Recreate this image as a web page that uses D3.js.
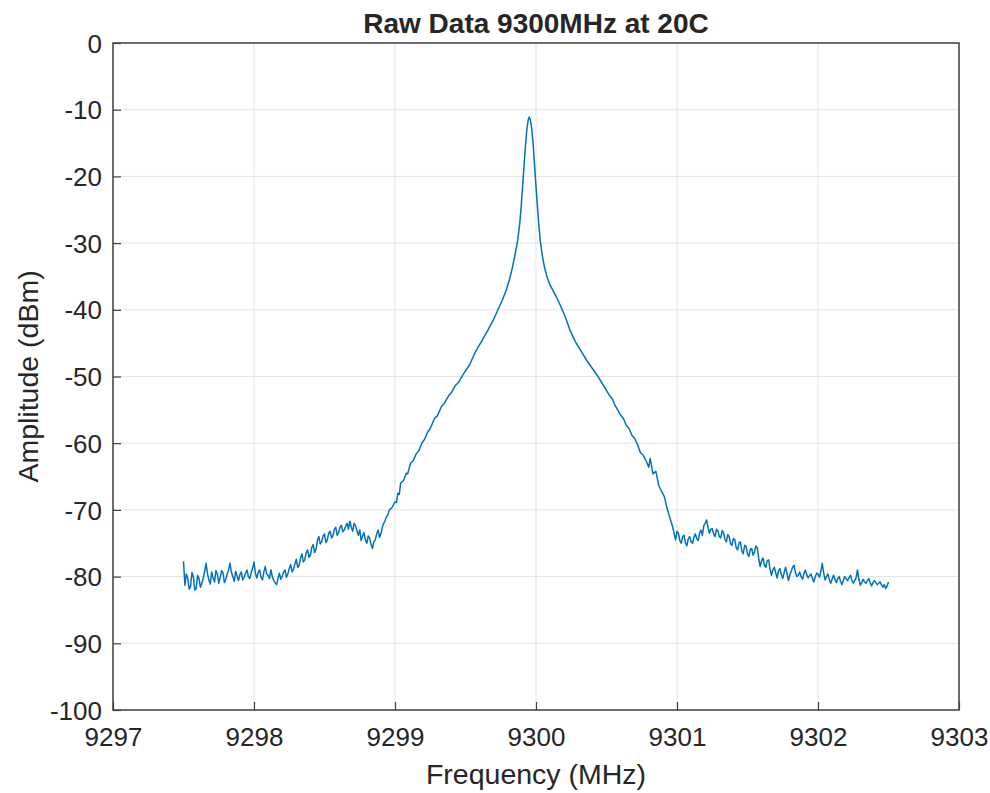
<!DOCTYPE html>
<html>
<head>
<meta charset="utf-8">
<script src="https://cdn.jsdelivr.net/npm/d3@7"></script>
<style>
  body { margin: 0; background: #fff; }
  svg text { font-family: "Liberation Sans", Arial, sans-serif; fill: #262626; }
</style>
</head>
<body>
<svg id="chart" width="990" height="793"></svg>
<script>
// [frequency MHz, amplitude dBm]
const leftTail = [
  [9297.50, -77.7], [9297.51, -81.3], [9297.52, -79.6], [9297.53, -80.2], [9297.54, -81.9], [9297.55, -81.5], [9297.56, -79.4], [9297.57, -80.0],
  [9297.58, -82.0], [9297.59, -81.8], [9297.60, -79.8], [9297.61, -80.3], [9297.62, -81.6], [9297.63, -81.0], [9297.64, -80.2], [9297.65, -79.2], [9297.66, -78.0],
  [9297.67, -79.6], [9297.68, -80.5], [9297.69, -81.1], [9297.70, -79.3], [9297.71, -80.2], [9297.72, -80.8], [9297.73, -79.1], [9297.74, -79.6], [9297.75, -81.0], [9297.76, -80.2],
  [9297.77, -79.1], [9297.78, -79.4], [9297.79, -80.9], [9297.80, -80.4], [9297.81, -79.6], [9297.82, -79.0], [9297.83, -78.0], [9297.84, -79.4], [9297.85, -80.0],
  [9297.86, -80.7], [9297.87, -79.2], [9297.88, -79.9], [9297.89, -80.6], [9297.90, -79.7], [9297.91, -79.3], [9297.92, -80.5], [9297.93, -80.1], [9297.94, -79.5], [9297.95, -79.0],
  [9297.96, -80.0], [9297.97, -80.3], [9297.98, -79.4], [9297.99, -78.8], [9298.00, -77.8], [9298.01, -79.5], [9298.02, -80.2], [9298.03, -79.4], [9298.04, -79.0],
  [9298.05, -80.1], [9298.06, -80.5], [9298.07, -79.3], [9298.08, -78.5], [9298.09, -79.6], [9298.10, -79.8], [9298.11, -80.3], [9298.12, -79.0], [9298.13, -80.0], [9298.14, -80.6],
  [9298.15, -80.9], [9298.16, -81.2], [9298.17, -80.3], [9298.18, -79.5], [9298.19, -80.4], [9298.20, -80.0], [9298.21, -79.3], [9298.22, -79.0], [9298.23, -80.1], [9298.24, -79.6],
  [9298.25, -78.8], [9298.26, -78.2], [9298.27, -79.3], [9298.28, -78.9], [9298.29, -78.1], [9298.30, -77.4], [9298.31, -78.6], [9298.32, -78.3], [9298.33, -77.2], [9298.34, -76.6],
  [9298.35, -77.8], [9298.36, -77.5], [9298.37, -76.4], [9298.38, -76.0], [9298.39, -77.1], [9298.40, -76.8], [9298.41, -75.6], [9298.42, -75.2], [9298.43, -76.4], [9298.44, -75.9],
  [9298.45, -74.6], [9298.46, -74.0], [9298.47, -75.1], [9298.48, -74.8], [9298.49, -73.9], [9298.50, -73.6], [9298.51, -74.9], [9298.52, -74.5], [9298.53, -73.5], [9298.54, -73.2],
  [9298.55, -74.2], [9298.56, -73.9], [9298.57, -72.9], [9298.58, -72.6], [9298.59, -73.8], [9298.60, -73.4], [9298.61, -72.6], [9298.62, -72.3], [9298.63, -73.3], [9298.64, -73.0],
  [9298.65, -72.5], [9298.66, -72.0], [9298.67, -72.9], [9298.68, -71.7], [9298.69, -72.6], [9298.70, -73.2], [9298.71, -72.0], [9298.72, -72.4], [9298.73, -73.1], [9298.74, -73.8],
  [9298.75, -73.0], [9298.76, -74.6], [9298.77, -73.9], [9298.78, -73.4], [9298.79, -74.5], [9298.80, -75.0], [9298.81, -73.9], [9298.82, -74.2], [9298.83, -75.2], [9298.84, -75.8],
  [9298.85, -74.8], [9298.86, -74.5], [9298.87, -73.6], [9298.88, -73.0], [9298.89, -74.1], [9298.90, -73.6], [9298.91, -72.6], [9298.92, -72.0], [9298.93, -71.6], [9298.94, -71.0],
  [9298.95, -70.7], [9298.96, -70.0]
];

const mainLobe = [
  [9298.98, -69.6], [9299.00, -68.8], [9299.01, -68.9], [9299.02, -67.5], [9299.03, -67.7], [9299.04, -66.0], [9299.06, -65.6],
  [9299.08, -64.5], [9299.09, -64.6], [9299.11, -63.0], [9299.13, -62.6], [9299.15, -61.6], [9299.17, -61.1], [9299.19, -60.0],
  [9299.21, -59.4], [9299.23, -58.4], [9299.25, -57.8], [9299.28, -56.3], [9299.30, -55.9], [9299.33, -54.5], [9299.35, -54.0],
  [9299.38, -52.9], [9299.40, -52.4], [9299.43, -51.3], [9299.45, -50.9], [9299.48, -49.8], [9299.53, -48.2], [9299.57, -46.3],
  [9299.62, -44.5], [9299.66, -43.0], [9299.70, -41.4], [9299.73, -40.0], [9299.76, -38.6],
  [9299.79, -37.0], [9299.81, -35.6], [9299.83, -33.9], [9299.85, -31.9], [9299.87, -29.6],
  [9299.885, -27.0], [9299.895, -24.5], [9299.905, -21.5], [9299.915, -18.5], [9299.925, -15.5],
  [9299.935, -13.0], [9299.945, -11.5], [9299.952, -11.1], [9299.96, -11.5], [9299.97, -13.0],
  [9299.98, -15.2], [9299.99, -18.5], [9300.00, -21.5], [9300.01, -24.5], [9300.02, -27.3],
  [9300.03, -29.6], [9300.045, -31.9], [9300.06, -33.6], [9300.08, -35.2], [9300.10, -36.3],
  [9300.12, -37.1], [9300.15, -38.3], [9300.18, -39.7], [9300.21, -41.2], [9300.24, -43.0],
  [9300.28, -44.8], [9300.32, -46.2], [9300.36, -47.6], [9300.40, -48.8], [9300.44, -50.0],
  [9300.48, -51.4], [9300.52, -52.8], [9300.54, -53.3], [9300.56, -54.3], [9300.60, -55.8], [9300.62, -56.3], [9300.64, -57.3],
  [9300.66, -57.8], [9300.68, -58.8], [9300.70, -59.3], [9300.72, -60.2], [9300.74, -61.4], [9300.76, -61.8], [9300.78, -62.6],
  [9300.80, -63.6], [9300.81, -62.3], [9300.83, -64.6], [9300.85, -64.2], [9300.87, -66.3],
  [9300.89, -67.2], [9300.91, -68.0], [9300.93, -69.8], [9300.95, -71.2], [9300.97, -72.6],
  [9300.99, -74.5]
];

const rightTail = [
  [9301.00, -73.2], [9301.01, -73.5], [9301.02, -74.6], [9301.03, -75.0], [9301.04, -74.0], [9301.05, -73.8], [9301.06, -74.9], [9301.07, -75.4], [9301.08, -74.3], [9301.09, -74.0],
  [9301.10, -74.8], [9301.11, -75.0], [9301.12, -74.1], [9301.13, -73.6], [9301.14, -74.3], [9301.15, -74.6], [9301.16, -73.5], [9301.17, -73.0], [9301.18, -73.8], [9301.19, -72.4],
  [9301.20, -72.0], [9301.21, -71.5], [9301.22, -72.6], [9301.23, -73.5], [9301.24, -72.9], [9301.25, -72.8], [9301.26, -73.6], [9301.27, -74.0], [9301.28, -72.9], [9301.29, -73.1],
  [9301.30, -74.0], [9301.31, -74.2], [9301.32, -73.1], [9301.33, -73.4], [9301.34, -74.4], [9301.35, -74.8], [9301.36, -73.7], [9301.37, -74.0], [9301.38, -75.1], [9301.39, -75.3],
  [9301.40, -74.3], [9301.41, -74.5], [9301.42, -75.7], [9301.43, -76.0], [9301.44, -74.9], [9301.45, -74.8], [9301.46, -76.2], [9301.47, -76.6], [9301.48, -75.3], [9301.49, -75.5],
  [9301.50, -76.6], [9301.51, -77.0], [9301.52, -75.9], [9301.53, -75.8], [9301.54, -76.8], [9301.55, -76.3], [9301.56, -75.4], [9301.57, -75.7], [9301.58, -77.4], [9301.59, -78.5],
  [9301.60, -77.6], [9301.61, -77.2], [9301.62, -78.3], [9301.63, -78.6], [9301.64, -77.6], [9301.65, -77.5], [9301.66, -78.9], [9301.67, -79.8], [9301.68, -79.0], [9301.69, -78.6],
  [9301.70, -79.4], [9301.71, -80.2], [9301.72, -79.1], [9301.73, -78.8], [9301.74, -79.7], [9301.75, -80.3], [9301.76, -79.4], [9301.77, -78.6], [9301.78, -79.5], [9301.79, -80.6],
  [9301.80, -79.8], [9301.81, -79.2], [9301.82, -78.6], [9301.83, -78.3], [9301.84, -79.4], [9301.85, -80.0], [9301.86, -79.8], [9301.87, -79.3], [9301.88, -80.0], [9301.89, -80.4],
  [9301.90, -79.6], [9301.91, -79.0], [9301.92, -79.7], [9301.93, -80.2], [9301.94, -79.9], [9301.95, -79.6], [9301.96, -80.2], [9301.97, -80.8], [9301.98, -80.1], [9301.99, -79.5],
  [9302.00, -79.6], [9302.01, -80.1], [9302.02, -79.2], [9302.03, -78.0], [9302.04, -79.4], [9302.05, -80.5], [9302.06, -80.0], [9302.07, -79.6], [9302.08, -80.4], [9302.09, -81.0],
  [9302.10, -80.4], [9302.11, -79.8], [9302.12, -80.4], [9302.13, -80.9], [9302.14, -80.3], [9302.15, -80.0], [9302.16, -80.7], [9302.17, -81.2], [9302.18, -80.6], [9302.19, -80.0],
  [9302.20, -80.3], [9302.21, -80.6], [9302.22, -80.2], [9302.23, -79.8], [9302.24, -80.5], [9302.25, -81.0], [9302.26, -80.6], [9302.27, -80.2], [9302.28, -79.0], [9302.29, -80.4],
  [9302.30, -81.3], [9302.31, -80.9], [9302.32, -80.4], [9302.33, -80.8], [9302.34, -81.0], [9302.35, -80.6], [9302.36, -80.3], [9302.37, -80.9], [9302.38, -81.4], [9302.39, -80.9],
  [9302.40, -80.6], [9302.41, -80.9], [9302.42, -81.2], [9302.43, -81.0], [9302.44, -80.8], [9302.45, -81.2], [9302.46, -81.6], [9302.47, -81.2], [9302.48, -81.8], [9302.49, -81.4],
  [9302.50, -80.8]
];

const xTicks = [9297, 9298, 9299, 9300, 9301, 9302, 9303];
const yTicks = [0, -10, -20, -30, -40, -50, -60, -70, -80, -90, -100];

const titleText = "Raw Data 9300MHz at 20C";
const xLabel = "Frequency (MHz)";
const yLabel = "Amplitude (dBm)";

const data = leftTail.concat(mainLobe, rightTail);

const svg = d3.select("#chart");
const margin = { left: 113, right: 31, top: 43, bottom: 83 };
const width = +svg.attr("width");
const height = +svg.attr("height");
const plotW = width - margin.left - margin.right;
const plotH = height - margin.top - margin.bottom;

const x = d3.scaleLinear().domain([9297, 9303]).range([0, plotW]);
const y = d3.scaleLinear().domain([-100, 0]).range([plotH, 0]);

const g = svg.append("g").attr("transform", `translate(${margin.left},${margin.top})`);

// grade
g.selectAll("line.xgrid")
  .data(xTicks)
  .enter()
  .append("line")
  .attr("x1", d => x(d)).attr("x2", d => x(d))
  .attr("y1", 0).attr("y2", plotH)
  .attr("stroke", "#e3e3e3")
  .attr("stroke-width", 1);

g.selectAll("line.ygrid")
  .data(yTicks)
  .enter()
  .append("line")
  .attr("x1", 0).attr("x2", plotW)
  .attr("y1", d => y(d)).attr("y2", d => y(d))
  .attr("stroke", "#e3e3e3")
  .attr("stroke-width", 1);

// the trace
const line = d3.line()
  .x(d => x(d[0]))
  .y(d => y(d[1]));

g.append("path")
  .datum(data)
  .attr("fill", "none")
  .attr("stroke", "#0072BD")
  .attr("stroke-width", 1.5)
  .attr("stroke-linejoin", "round")
  .attr("d", line);

// axes (ticks point inward, like MATLAB); plain hyphen for negatives
const fmt = d => String(d);
const xAxis = d3.axisBottom(x).tickValues(xTicks).tickFormat(fmt).tickSizeInner(-8).tickSizeOuter(0).tickPadding(20);
const yAxis = d3.axisLeft(y).tickValues(yTicks).tickFormat(fmt).tickSizeInner(-8).tickSizeOuter(0).tickPadding(11);

const gx = g.append("g").attr("transform", `translate(0,${plotH})`).call(xAxis);
const gy = g.append("g").call(yAxis);

[gx, gy].forEach(ax => {
  ax.select(".domain").remove();
  ax.selectAll(".tick line").attr("stroke", "#404040").attr("stroke-width", 1.2);
  ax.selectAll(".tick text")
    .attr("font-size", "26px")
    .attr("fill", "#262626")
    .style("font-family", "'Liberation Sans', Arial, sans-serif");
});
gy.selectAll(".tick text").attr("dy", "0.35em");
gx.selectAll(".tick text").attr("dy", "0.62em");

// box
g.append("rect")
  .attr("x", 0).attr("y", 0)
  .attr("width", plotW).attr("height", plotH)
  .attr("fill", "none")
  .attr("stroke", "#404040")
  .attr("stroke-width", 1.5);

// labels
svg.append("text")
  .attr("x", margin.left + plotW / 2)
  .attr("y", 33)
  .attr("text-anchor", "middle")
  .attr("font-size", "28px")
  .attr("font-weight", "bold")
  .attr("fill", "#000")
  .text(titleText);

svg.append("text")
  .attr("x", margin.left + plotW / 2)
  .attr("y", 784)
  .attr("text-anchor", "middle")
  .attr("font-size", "28.5px")
  .text(xLabel);

svg.append("text")
  .attr("transform", `translate(38,${margin.top + plotH / 2}) rotate(-90)`)
  .attr("text-anchor", "middle")
  .attr("font-size", "28.5px")
  .text(yLabel);
</script>
</body>
</html>
